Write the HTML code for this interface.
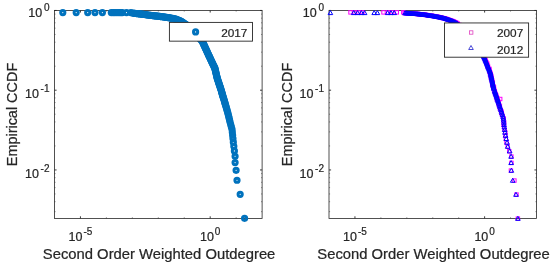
<!DOCTYPE html>
<html lang="en">
<head>
<meta charset="utf-8">
<title>Empirical CCDF of Second Order Weighted Outdegree</title>
<style>
html,body{margin:0;padding:0;background:#fff;}
body{width:550px;height:266px;overflow:hidden;font-family:"Liberation Sans", Arial, Helvetica, sans-serif;}
svg{display:block;}
text{font-family:"Liberation Sans", Arial, Helvetica, sans-serif;fill:#262626;stroke:#262626;stroke-width:0.22px;}
.tk{font-size:12.5px;}
.sp{font-size:10px;}
.lb{font-size:14.8px;}
.lg{font-size:11.8px;}
</style>
</head>
<body>
<svg width="550" height="266" viewBox="0 0 550 266">
<rect x="0" y="0" width="550" height="266" fill="#ffffff"/>

<g id="axes1">
<rect x="54.5" y="10.45" width="207.6" height="207.95" fill="none" stroke="#262626" stroke-width="0.8"/>
<path d="M80.45 218.4v-2.1M80.45 10.45v2.1M210.2 218.4v-2.1M210.2 10.45v2.1M54.5 10.45h2.1M262.1 10.45h-2.1M54.5 90.2h2.1M262.1 90.2h-2.1M54.5 169.95h2.1M262.1 169.95h-2.1" stroke="#262626" stroke-width="0.9" fill="none"/>
<path d="M106.4 218.4v-1.2M106.4 10.45v1.2M132.35 218.4v-1.2M132.35 10.45v1.2M158.3 218.4v-1.2M158.3 10.45v1.2M184.25 218.4v-1.2M184.25 10.45v1.2M236.15 218.4v-1.2M236.15 10.45v1.2M54.5 66.19h1.1M262.1 66.19h-1.1M54.5 52.15h1.1M262.1 52.15h-1.1M54.5 42.19h1.1M262.1 42.19h-1.1M54.5 34.46h1.1M262.1 34.46h-1.1M54.5 28.14h1.1M262.1 28.14h-1.1M54.5 22.8h1.1M262.1 22.8h-1.1M54.5 18.18h1.1M262.1 18.18h-1.1M54.5 14.1h1.1M262.1 14.1h-1.1M54.5 145.94h1.1M262.1 145.94h-1.1M54.5 131.9h1.1M262.1 131.9h-1.1M54.5 121.94h1.1M262.1 121.94h-1.1M54.5 114.21h1.1M262.1 114.21h-1.1M54.5 107.89h1.1M262.1 107.89h-1.1M54.5 102.55h1.1M262.1 102.55h-1.1M54.5 97.93h1.1M262.1 97.93h-1.1M54.5 93.85h1.1M262.1 93.85h-1.1M54.5 211.65h1.1M262.1 211.65h-1.1M54.5 201.69h1.1M262.1 201.69h-1.1M54.5 193.96h1.1M262.1 193.96h-1.1M54.5 187.64h1.1M262.1 187.64h-1.1M54.5 182.3h1.1M262.1 182.3h-1.1M54.5 177.68h1.1M262.1 177.68h-1.1M54.5 173.6h1.1M262.1 173.6h-1.1" stroke="#262626" stroke-width="0.6" fill="none" opacity="0.8"/>
<g fill="none" stroke="#0072bd" stroke-width="3.0">
<circle cx="62.8" cy="12.6" r="2.1"/>
<circle cx="76.2" cy="12.6" r="2.1"/>
<circle cx="87.7" cy="12.6" r="2.1"/>
<circle cx="95" cy="12.6" r="2.1"/>
<circle cx="102.4" cy="12.6" r="2.1"/>
<circle cx="111.3" cy="12.6" r="2.1"/>
<circle cx="113.2" cy="12.6" r="2.1"/>
<circle cx="115" cy="12.6" r="2.1"/>
<circle cx="117" cy="12.6" r="2.1"/>
<circle cx="119" cy="12.6" r="2.1"/>
<circle cx="120.8" cy="12.6" r="2.1"/>
<circle cx="122.3" cy="12.6" r="2.1"/>
<circle cx="126.5" cy="12.6" r="2.1"/>
<circle cx="130.9" cy="12.6" r="2.1"/>
<circle cx="133" cy="13.2" r="2.1"/>
<circle cx="134" cy="13.29" r="2.1"/>
<circle cx="134.99" cy="13.39" r="2.1"/>
<circle cx="135.99" cy="13.48" r="2.1"/>
<circle cx="136.98" cy="13.58" r="2.1"/>
<circle cx="137.98" cy="13.67" r="2.1"/>
<circle cx="138.97" cy="13.79" r="2.1"/>
<circle cx="139.96" cy="13.92" r="2.1"/>
<circle cx="140.95" cy="14.06" r="2.1"/>
<circle cx="141.94" cy="14.19" r="2.1"/>
<circle cx="142.94" cy="14.32" r="2.1"/>
<circle cx="143.93" cy="14.45" r="2.1"/>
<circle cx="144.92" cy="14.59" r="2.1"/>
<circle cx="145.91" cy="14.72" r="2.1"/>
<circle cx="146.9" cy="14.85" r="2.1"/>
<circle cx="147.89" cy="14.98" r="2.1"/>
<circle cx="148.88" cy="15.12" r="2.1"/>
<circle cx="149.87" cy="15.25" r="2.1"/>
<circle cx="150.86" cy="15.38" r="2.1"/>
<circle cx="151.86" cy="15.5" r="2.1"/>
<circle cx="152.85" cy="15.62" r="2.1"/>
<circle cx="153.84" cy="15.73" r="2.1"/>
<circle cx="154.84" cy="15.85" r="2.1"/>
<circle cx="155.83" cy="15.96" r="2.1"/>
<circle cx="156.82" cy="16.08" r="2.1"/>
<circle cx="157.82" cy="16.2" r="2.1"/>
<circle cx="158.81" cy="16.31" r="2.1"/>
<circle cx="159.8" cy="16.43" r="2.1"/>
<circle cx="160.8" cy="16.54" r="2.1"/>
<circle cx="161.79" cy="16.66" r="2.1"/>
<circle cx="162.78" cy="16.77" r="2.1"/>
<circle cx="163.77" cy="16.92" r="2.1"/>
<circle cx="164.76" cy="17.08" r="2.1"/>
<circle cx="165.75" cy="17.23" r="2.1"/>
<circle cx="166.74" cy="17.39" r="2.1"/>
<circle cx="167.72" cy="17.54" r="2.1"/>
<circle cx="168.71" cy="17.7" r="2.1"/>
<circle cx="169.7" cy="17.85" r="2.1"/>
<circle cx="170.68" cy="18.04" r="2.1"/>
<circle cx="171.66" cy="18.23" r="2.1"/>
<circle cx="172.64" cy="18.43" r="2.1"/>
<circle cx="173.62" cy="18.62" r="2.1"/>
<circle cx="174.6" cy="18.82" r="2.1"/>
<circle cx="175.58" cy="19.03" r="2.1"/>
<circle cx="176.51" cy="19.4" r="2.1"/>
<circle cx="177.44" cy="19.78" r="2.1"/>
<circle cx="178.37" cy="20.15" r="2.1"/>
<circle cx="179.29" cy="20.52" r="2.1"/>
<circle cx="180.22" cy="20.89" r="2.1"/>
<circle cx="181.14" cy="21.29" r="2.1"/>
<circle cx="181.96" cy="21.85" r="2.1"/>
<circle cx="182.79" cy="22.42" r="2.1"/>
<circle cx="183.62" cy="22.98" r="2.1"/>
<circle cx="184.44" cy="23.54" r="2.1"/>
<circle cx="185.27" cy="24.1" r="2.1"/>
<circle cx="186.09" cy="24.67" r="2.1"/>
<circle cx="186.87" cy="25.3" r="2.1"/>
<circle cx="187.65" cy="25.92" r="2.1"/>
<circle cx="188.43" cy="26.55" r="2.1"/>
<circle cx="189.21" cy="27.17" r="2.1"/>
<circle cx="190" cy="27.8" r="2.1"/>
<circle cx="190.78" cy="28.42" r="2.1"/>
<circle cx="191.5" cy="29.1" r="2.1"/>
<circle cx="192.21" cy="29.81" r="2.1"/>
<circle cx="192.92" cy="30.52" r="2.1"/>
<circle cx="193.63" cy="31.23" r="2.1"/>
<circle cx="194.33" cy="31.93" r="2.1"/>
<circle cx="195.04" cy="32.64" r="2.1"/>
<circle cx="195.75" cy="33.35" r="2.1"/>
<circle cx="196.4" cy="34.1" r="2.1"/>
<circle cx="197.03" cy="34.88" r="2.1"/>
<circle cx="197.66" cy="35.65" r="2.1"/>
<circle cx="198.29" cy="36.43" r="2.1"/>
<circle cx="198.92" cy="37.21" r="2.1"/>
<circle cx="199.55" cy="37.98" r="2.1"/>
<circle cx="200.18" cy="38.76" r="2.1"/>
<circle cx="200.81" cy="39.54" r="2.1"/>
<circle cx="201.44" cy="40.32" r="2.1"/>
<circle cx="202.07" cy="41.09" r="2.1"/>
<circle cx="202.6" cy="41.93" r="2.1"/>
<circle cx="203.02" cy="42.84" r="2.1"/>
<circle cx="203.43" cy="43.75" r="2.1"/>
<circle cx="203.85" cy="44.66" r="2.1"/>
<circle cx="204.27" cy="45.57" r="2.1"/>
<circle cx="204.69" cy="46.47" r="2.1"/>
<circle cx="205.11" cy="47.38" r="2.1"/>
<circle cx="205.52" cy="48.29" r="2.1"/>
<circle cx="205.94" cy="49.2" r="2.1"/>
<circle cx="206.36" cy="50.11" r="2.1"/>
<circle cx="206.78" cy="51.02" r="2.1"/>
<circle cx="207.19" cy="51.93" r="2.1"/>
<circle cx="207.61" cy="52.83" r="2.1"/>
<circle cx="208.03" cy="53.74" r="2.1"/>
<circle cx="208.45" cy="54.65" r="2.1"/>
<circle cx="208.87" cy="55.56" r="2.1"/>
<circle cx="209.29" cy="56.46" r="2.1"/>
<circle cx="209.72" cy="57.37" r="2.1"/>
<circle cx="210.14" cy="58.27" r="2.1"/>
<circle cx="210.57" cy="59.18" r="2.1"/>
<circle cx="210.99" cy="60.09" r="2.1"/>
<circle cx="211.42" cy="60.99" r="2.1"/>
<circle cx="211.84" cy="61.9" r="2.1"/>
<circle cx="212.27" cy="62.8" r="2.1"/>
<circle cx="212.69" cy="63.71" r="2.1"/>
<circle cx="213.12" cy="64.61" r="2.1"/>
<circle cx="213.56" cy="65.51" r="2.1"/>
<circle cx="214.02" cy="66.39" r="2.1"/>
<circle cx="214.48" cy="67.28" r="2.1"/>
<circle cx="214.87" cy="68.2" r="2.1"/>
<circle cx="215.1" cy="69.17" r="2.1"/>
<circle cx="215.32" cy="70.15" r="2.1"/>
<circle cx="215.55" cy="71.12" r="2.1"/>
<circle cx="215.77" cy="72.09" r="2.1"/>
<circle cx="216" cy="73.07" r="2.1"/>
<circle cx="216.23" cy="74.04" r="2.1"/>
<circle cx="216.45" cy="75.02" r="2.1"/>
<circle cx="216.68" cy="75.99" r="2.1"/>
<circle cx="216.91" cy="76.96" r="2.1"/>
<circle cx="217.14" cy="77.93" r="2.1"/>
<circle cx="217.46" cy="78.88" r="2.1"/>
<circle cx="217.77" cy="79.83" r="2.1"/>
<circle cx="218.09" cy="80.78" r="2.1"/>
<circle cx="218.4" cy="81.73" r="2.1"/>
<circle cx="218.71" cy="82.68" r="2.1"/>
<circle cx="219.03" cy="83.63" r="2.1"/>
<circle cx="219.34" cy="84.58" r="2.1"/>
<circle cx="219.66" cy="85.53" r="2.1"/>
<circle cx="219.97" cy="86.48" r="2.1"/>
<circle cx="220.28" cy="87.43" r="2.1"/>
<circle cx="220.6" cy="88.38" r="2.1"/>
<circle cx="220.91" cy="89.33" r="2.1"/>
<circle cx="221.31" cy="90.54" r="2.1"/>
<circle cx="221.55" cy="91.42" r="2.1"/>
<circle cx="221.79" cy="92.32" r="2.1"/>
<circle cx="222.03" cy="93.24" r="2.1"/>
<circle cx="222.29" cy="94.19" r="2.1"/>
<circle cx="222.56" cy="95.17" r="2.1"/>
<circle cx="222.88" cy="96.17" r="2.1"/>
<circle cx="223.22" cy="97.21" r="2.1"/>
<circle cx="223.56" cy="98.27" r="2.1"/>
<circle cx="223.91" cy="99.37" r="2.1"/>
<circle cx="224.24" cy="100.51" r="2.1"/>
<circle cx="224.58" cy="101.68" r="2.1"/>
<circle cx="224.94" cy="102.9" r="2.1"/>
<circle cx="225.31" cy="104.16" r="2.1"/>
<circle cx="225.69" cy="105.46" r="2.1"/>
<circle cx="226.09" cy="106.82" r="2.1"/>
<circle cx="226.5" cy="108.24" r="2.1"/>
<circle cx="226.93" cy="109.71" r="2.1"/>
<circle cx="227.38" cy="111.25" r="2.1"/>
<circle cx="227.81" cy="112.86" r="2.1"/>
<circle cx="228.23" cy="114.55" r="2.1"/>
<circle cx="228.67" cy="116.33" r="2.1"/>
<circle cx="229.13" cy="118.2" r="2.1"/>
<circle cx="229.61" cy="120.18" r="2.1"/>
<circle cx="230.13" cy="122.28" r="2.1"/>
<circle cx="230.68" cy="124.52" r="2.1"/>
<circle cx="231.37" cy="126.91" r="2.1"/>
<circle cx="232.05" cy="129.47" r="2.1"/>
<circle cx="232.32" cy="132.24" r="2.1"/>
<circle cx="232.63" cy="135.26" r="2.1"/>
<circle cx="232.96" cy="138.56" r="2.1"/>
<circle cx="233.33" cy="142.21" r="2.1"/>
<circle cx="233.83" cy="146.29" r="2.1"/>
<circle cx="234.4" cy="150.91" r="2.1"/>
<circle cx="235.09" cy="156.25" r="2.1"/>
<circle cx="235.1" cy="162.57" r="2.1"/>
<circle cx="236.1" cy="170.29" r="2.1"/>
<circle cx="237.01" cy="180.26" r="2.1"/>
<circle cx="240.18" cy="194.3" r="2.1"/>
<circle cx="244.58" cy="218.31" r="2.1"/>
</g>
<text x="49.5" y="17.35" text-anchor="end"><tspan class="tk">10</tspan><tspan class="sp" dx="1.7" dy="-6.1">0</tspan></text>
<text x="49.5" y="97.8" text-anchor="end"><tspan class="tk">10</tspan><tspan class="sp" dx="1.7" dy="-6.1">-1</tspan></text>
<text x="49.5" y="177.85" text-anchor="end"><tspan class="tk">10</tspan><tspan class="sp" dx="1.7" dy="-6.1">-2</tspan></text>
<text x="80.45" y="240.7" text-anchor="middle"><tspan class="tk">10</tspan><tspan class="sp" dx="1.0" dy="-6.1">-5</tspan></text>
<text x="210.2" y="240.7" text-anchor="middle"><tspan class="tk">10</tspan><tspan class="sp" dx="1.0" dy="-6.1">0</tspan></text>
<text class="lb" x="159.1" y="259.0" text-anchor="middle">Second Order Weighted Outdegree</text>
<text class="lb" style="font-size:14.45px" transform="translate(17.4 114.52) rotate(-90)" text-anchor="middle">Empirical CCDF</text>
<rect x="169.4" y="22.4" width="83.1" height="18.75" fill="#fff" stroke="#262626" stroke-width="0.9"/>
<circle cx="195.6" cy="31.9" r="2.1" fill="none" stroke="#0072bd" stroke-width="3.0"/>
<text class="lg" x="221.2" y="36.7">2017</text>
</g>
<g id="axes2">
<rect x="329" y="10.45" width="207.5" height="207.95" fill="none" stroke="#262626" stroke-width="0.8"/>
<path d="M354.94 218.4v-2.1M354.94 10.45v2.1M484.62 218.4v-2.1M484.62 10.45v2.1M329 10.45h2.1M536.5 10.45h-2.1M329 90.2h2.1M536.5 90.2h-2.1M329 169.95h2.1M536.5 169.95h-2.1" stroke="#262626" stroke-width="0.9" fill="none"/>
<path d="M380.88 218.4v-1.2M380.88 10.45v1.2M406.81 218.4v-1.2M406.81 10.45v1.2M432.75 218.4v-1.2M432.75 10.45v1.2M458.69 218.4v-1.2M458.69 10.45v1.2M510.56 218.4v-1.2M510.56 10.45v1.2M329 66.19h1.1M536.5 66.19h-1.1M329 52.15h1.1M536.5 52.15h-1.1M329 42.19h1.1M536.5 42.19h-1.1M329 34.46h1.1M536.5 34.46h-1.1M329 28.14h1.1M536.5 28.14h-1.1M329 22.8h1.1M536.5 22.8h-1.1M329 18.18h1.1M536.5 18.18h-1.1M329 14.1h1.1M536.5 14.1h-1.1M329 145.94h1.1M536.5 145.94h-1.1M329 131.9h1.1M536.5 131.9h-1.1M329 121.94h1.1M536.5 121.94h-1.1M329 114.21h1.1M536.5 114.21h-1.1M329 107.89h1.1M536.5 107.89h-1.1M329 102.55h1.1M536.5 102.55h-1.1M329 97.93h1.1M536.5 97.93h-1.1M329 93.85h1.1M536.5 93.85h-1.1M329 211.65h1.1M536.5 211.65h-1.1M329 201.69h1.1M536.5 201.69h-1.1M329 193.96h1.1M536.5 193.96h-1.1M329 187.64h1.1M536.5 187.64h-1.1M329 182.3h1.1M536.5 182.3h-1.1M329 177.68h1.1M536.5 177.68h-1.1M329 173.6h1.1M536.5 173.6h-1.1" stroke="#262626" stroke-width="0.6" fill="none" opacity="0.8"/>
<g>
<rect x="348.8" y="10.7" width="3.4" height="3.4" fill="none" stroke="#ff00ff" stroke-width="1.0"/>
<rect x="352.8" y="10.7" width="3.4" height="3.4" fill="none" stroke="#ff00ff" stroke-width="1.0"/>
<rect x="356.8" y="10.7" width="3.4" height="3.4" fill="none" stroke="#ff00ff" stroke-width="1.0"/>
<rect x="360.8" y="10.7" width="3.4" height="3.4" fill="none" stroke="#ff00ff" stroke-width="1.0"/>
<rect x="381.8" y="10.7" width="3.4" height="3.4" fill="none" stroke="#ff00ff" stroke-width="1.0"/>
<rect x="386.3" y="10.7" width="3.4" height="3.4" fill="none" stroke="#ff00ff" stroke-width="1.0"/>
<rect x="390.3" y="10.7" width="3.4" height="3.4" fill="none" stroke="#ff00ff" stroke-width="1.0"/>
<rect x="395.1" y="10.7" width="3.4" height="3.4" fill="none" stroke="#ff00ff" stroke-width="1.0"/>
<rect x="401.6" y="10.7" width="3.4" height="3.4" fill="none" stroke="#ff00ff" stroke-width="1.0"/>
<rect x="402.89" y="11.4" width="3.4" height="3.4" fill="none" stroke="#ff00ff" stroke-width="1.0"/>
<rect x="404.25" y="11.44" width="3.4" height="3.4" fill="none" stroke="#ff00ff" stroke-width="1.0"/>
<rect x="405.04" y="11.48" width="3.4" height="3.4" fill="none" stroke="#ff00ff" stroke-width="1.0"/>
<rect x="406.32" y="11.52" width="3.4" height="3.4" fill="none" stroke="#ff00ff" stroke-width="1.0"/>
<rect x="407.35" y="11.56" width="3.4" height="3.4" fill="none" stroke="#ff00ff" stroke-width="1.0"/>
<rect x="407.67" y="11.6" width="3.4" height="3.4" fill="none" stroke="#ff00ff" stroke-width="1.0"/>
<rect x="408.61" y="11.69" width="3.4" height="3.4" fill="none" stroke="#ff00ff" stroke-width="1.0"/>
<rect x="410.59" y="11.78" width="3.4" height="3.4" fill="none" stroke="#ff00ff" stroke-width="1.0"/>
<rect x="410.9" y="11.87" width="3.4" height="3.4" fill="none" stroke="#ff00ff" stroke-width="1.0"/>
<rect x="411.86" y="11.96" width="3.4" height="3.4" fill="none" stroke="#ff00ff" stroke-width="1.0"/>
<rect x="413.77" y="12.05" width="3.4" height="3.4" fill="none" stroke="#ff00ff" stroke-width="1.0"/>
<rect x="414.14" y="12.14" width="3.4" height="3.4" fill="none" stroke="#ff00ff" stroke-width="1.0"/>
<rect x="415.57" y="12.23" width="3.4" height="3.4" fill="none" stroke="#ff00ff" stroke-width="1.0"/>
<rect x="416.14" y="12.32" width="3.4" height="3.4" fill="none" stroke="#ff00ff" stroke-width="1.0"/>
<rect x="417.33" y="12.41" width="3.4" height="3.4" fill="none" stroke="#ff00ff" stroke-width="1.0"/>
<rect x="417.74" y="12.5" width="3.4" height="3.4" fill="none" stroke="#ff00ff" stroke-width="1.0"/>
<rect x="419.31" y="12.59" width="3.4" height="3.4" fill="none" stroke="#ff00ff" stroke-width="1.0"/>
<rect x="420.59" y="12.68" width="3.4" height="3.4" fill="none" stroke="#ff00ff" stroke-width="1.0"/>
<rect x="421.17" y="12.77" width="3.4" height="3.4" fill="none" stroke="#ff00ff" stroke-width="1.0"/>
<rect x="422.42" y="12.9" width="3.4" height="3.4" fill="none" stroke="#ff00ff" stroke-width="1.0"/>
<rect x="423.33" y="13.05" width="3.4" height="3.4" fill="none" stroke="#ff00ff" stroke-width="1.0"/>
<rect x="423.59" y="13.21" width="3.4" height="3.4" fill="none" stroke="#ff00ff" stroke-width="1.0"/>
<rect x="425.41" y="13.36" width="3.4" height="3.4" fill="none" stroke="#ff00ff" stroke-width="1.0"/>
<rect x="426.2" y="13.52" width="3.4" height="3.4" fill="none" stroke="#ff00ff" stroke-width="1.0"/>
<rect x="426.84" y="13.67" width="3.4" height="3.4" fill="none" stroke="#ff00ff" stroke-width="1.0"/>
<rect x="427.5" y="13.83" width="3.4" height="3.4" fill="none" stroke="#ff00ff" stroke-width="1.0"/>
<rect x="429.49" y="13.98" width="3.4" height="3.4" fill="none" stroke="#ff00ff" stroke-width="1.0"/>
<rect x="430.01" y="14.13" width="3.4" height="3.4" fill="none" stroke="#ff00ff" stroke-width="1.0"/>
<rect x="431.29" y="14.29" width="3.4" height="3.4" fill="none" stroke="#ff00ff" stroke-width="1.0"/>
<rect x="432.47" y="14.44" width="3.4" height="3.4" fill="none" stroke="#ff00ff" stroke-width="1.0"/>
<rect x="433.26" y="14.6" width="3.4" height="3.4" fill="none" stroke="#ff00ff" stroke-width="1.0"/>
<rect x="434.5" y="14.75" width="3.4" height="3.4" fill="none" stroke="#ff00ff" stroke-width="1.0"/>
<rect x="434.85" y="14.94" width="3.4" height="3.4" fill="none" stroke="#ff00ff" stroke-width="1.0"/>
<rect x="436.31" y="15.15" width="3.4" height="3.4" fill="none" stroke="#ff00ff" stroke-width="1.0"/>
<rect x="436.86" y="15.36" width="3.4" height="3.4" fill="none" stroke="#ff00ff" stroke-width="1.0"/>
<rect x="438.43" y="15.57" width="3.4" height="3.4" fill="none" stroke="#ff00ff" stroke-width="1.0"/>
<rect x="439.34" y="15.78" width="3.4" height="3.4" fill="none" stroke="#ff00ff" stroke-width="1.0"/>
<rect x="439.38" y="15.99" width="3.4" height="3.4" fill="none" stroke="#ff00ff" stroke-width="1.0"/>
<rect x="440.4" y="16.2" width="3.4" height="3.4" fill="none" stroke="#ff00ff" stroke-width="1.0"/>
<rect x="441.48" y="16.41" width="3.4" height="3.4" fill="none" stroke="#ff00ff" stroke-width="1.0"/>
<rect x="443.35" y="16.63" width="3.4" height="3.4" fill="none" stroke="#ff00ff" stroke-width="1.0"/>
<rect x="443.66" y="16.95" width="3.4" height="3.4" fill="none" stroke="#ff00ff" stroke-width="1.0"/>
<rect x="444.84" y="17.26" width="3.4" height="3.4" fill="none" stroke="#ff00ff" stroke-width="1.0"/>
<rect x="445.4" y="17.58" width="3.4" height="3.4" fill="none" stroke="#ff00ff" stroke-width="1.0"/>
<rect x="446.59" y="17.9" width="3.4" height="3.4" fill="none" stroke="#ff00ff" stroke-width="1.0"/>
<rect x="447.4" y="18.21" width="3.4" height="3.4" fill="none" stroke="#ff00ff" stroke-width="1.0"/>
<rect x="448.3" y="18.53" width="3.4" height="3.4" fill="none" stroke="#ff00ff" stroke-width="1.0"/>
<rect x="449.53" y="18.84" width="3.4" height="3.4" fill="none" stroke="#ff00ff" stroke-width="1.0"/>
<rect x="450.46" y="19.21" width="3.4" height="3.4" fill="none" stroke="#ff00ff" stroke-width="1.0"/>
<rect x="451.75" y="19.64" width="3.4" height="3.4" fill="none" stroke="#ff00ff" stroke-width="1.0"/>
<rect x="452.39" y="20.06" width="3.4" height="3.4" fill="none" stroke="#ff00ff" stroke-width="1.0"/>
<rect x="453.59" y="20.48" width="3.4" height="3.4" fill="none" stroke="#ff00ff" stroke-width="1.0"/>
<rect x="454.41" y="20.9" width="3.4" height="3.4" fill="none" stroke="#ff00ff" stroke-width="1.0"/>
<rect x="455.41" y="21.44" width="3.4" height="3.4" fill="none" stroke="#ff00ff" stroke-width="1.0"/>
<rect x="455.85" y="22.02" width="3.4" height="3.4" fill="none" stroke="#ff00ff" stroke-width="1.0"/>
<rect x="456.05" y="22.59" width="3.4" height="3.4" fill="none" stroke="#ff00ff" stroke-width="1.0"/>
<rect x="457.71" y="23.17" width="3.4" height="3.4" fill="none" stroke="#ff00ff" stroke-width="1.0"/>
<rect x="458.63" y="23.78" width="3.4" height="3.4" fill="none" stroke="#ff00ff" stroke-width="1.0"/>
<rect x="459.33" y="24.4" width="3.4" height="3.4" fill="none" stroke="#ff00ff" stroke-width="1.0"/>
<rect x="459.71" y="25.03" width="3.4" height="3.4" fill="none" stroke="#ff00ff" stroke-width="1.0"/>
<rect x="460.66" y="25.66" width="3.4" height="3.4" fill="none" stroke="#ff00ff" stroke-width="1.0"/>
<rect x="460.84" y="26.28" width="3.4" height="3.4" fill="none" stroke="#ff00ff" stroke-width="1.0"/>
<rect x="462.36" y="26.91" width="3.4" height="3.4" fill="none" stroke="#ff00ff" stroke-width="1.0"/>
<rect x="462.78" y="27.59" width="3.4" height="3.4" fill="none" stroke="#ff00ff" stroke-width="1.0"/>
<rect x="463.14" y="28.3" width="3.4" height="3.4" fill="none" stroke="#ff00ff" stroke-width="1.0"/>
<rect x="463.58" y="29.01" width="3.4" height="3.4" fill="none" stroke="#ff00ff" stroke-width="1.0"/>
<rect x="465.24" y="29.72" width="3.4" height="3.4" fill="none" stroke="#ff00ff" stroke-width="1.0"/>
<rect x="466.11" y="30.42" width="3.4" height="3.4" fill="none" stroke="#ff00ff" stroke-width="1.0"/>
<rect x="465.74" y="31.13" width="3.4" height="3.4" fill="none" stroke="#ff00ff" stroke-width="1.0"/>
<rect x="467.3" y="31.84" width="3.4" height="3.4" fill="none" stroke="#ff00ff" stroke-width="1.0"/>
<rect x="467.49" y="32.58" width="3.4" height="3.4" fill="none" stroke="#ff00ff" stroke-width="1.0"/>
<rect x="467.82" y="33.35" width="3.4" height="3.4" fill="none" stroke="#ff00ff" stroke-width="1.0"/>
<rect x="468.64" y="34.12" width="3.4" height="3.4" fill="none" stroke="#ff00ff" stroke-width="1.0"/>
<rect x="469.85" y="34.89" width="3.4" height="3.4" fill="none" stroke="#ff00ff" stroke-width="1.0"/>
<rect x="470.61" y="35.66" width="3.4" height="3.4" fill="none" stroke="#ff00ff" stroke-width="1.0"/>
<rect x="470.26" y="36.42" width="3.4" height="3.4" fill="none" stroke="#ff00ff" stroke-width="1.0"/>
<rect x="471.58" y="37.19" width="3.4" height="3.4" fill="none" stroke="#ff00ff" stroke-width="1.0"/>
<rect x="471.54" y="37.96" width="3.4" height="3.4" fill="none" stroke="#ff00ff" stroke-width="1.0"/>
<rect x="472.94" y="38.77" width="3.4" height="3.4" fill="none" stroke="#ff00ff" stroke-width="1.0"/>
<rect x="473.05" y="39.58" width="3.4" height="3.4" fill="none" stroke="#ff00ff" stroke-width="1.0"/>
<rect x="474.29" y="40.39" width="3.4" height="3.4" fill="none" stroke="#ff00ff" stroke-width="1.0"/>
<rect x="475" y="41.21" width="3.4" height="3.4" fill="none" stroke="#ff00ff" stroke-width="1.0"/>
<rect x="475.01" y="42.02" width="3.4" height="3.4" fill="none" stroke="#ff00ff" stroke-width="1.0"/>
<rect x="476.18" y="42.83" width="3.4" height="3.4" fill="none" stroke="#ff00ff" stroke-width="1.0"/>
<rect x="475.93" y="43.65" width="3.4" height="3.4" fill="none" stroke="#ff00ff" stroke-width="1.0"/>
<rect x="476.24" y="44.46" width="3.4" height="3.4" fill="none" stroke="#ff00ff" stroke-width="1.0"/>
<rect x="477.42" y="45.29" width="3.4" height="3.4" fill="none" stroke="#ff00ff" stroke-width="1.0"/>
<rect x="477.18" y="46.19" width="3.4" height="3.4" fill="none" stroke="#ff00ff" stroke-width="1.0"/>
<rect x="477.82" y="47.09" width="3.4" height="3.4" fill="none" stroke="#ff00ff" stroke-width="1.0"/>
<rect x="478.52" y="47.98" width="3.4" height="3.4" fill="none" stroke="#ff00ff" stroke-width="1.0"/>
<rect x="479.2" y="48.88" width="3.4" height="3.4" fill="none" stroke="#ff00ff" stroke-width="1.0"/>
<rect x="479.1" y="49.77" width="3.4" height="3.4" fill="none" stroke="#ff00ff" stroke-width="1.0"/>
<rect x="479.41" y="50.67" width="3.4" height="3.4" fill="none" stroke="#ff00ff" stroke-width="1.0"/>
<rect x="480.84" y="51.57" width="3.4" height="3.4" fill="none" stroke="#ff00ff" stroke-width="1.0"/>
<rect x="480.62" y="52.46" width="3.4" height="3.4" fill="none" stroke="#ff00ff" stroke-width="1.0"/>
<rect x="481.84" y="53.36" width="3.4" height="3.4" fill="none" stroke="#ff00ff" stroke-width="1.0"/>
<rect x="482.21" y="54.25" width="3.4" height="3.4" fill="none" stroke="#ff00ff" stroke-width="1.0"/>
<rect x="482.03" y="55.15" width="3.4" height="3.4" fill="none" stroke="#ff00ff" stroke-width="1.0"/>
<rect x="482.58" y="56.05" width="3.4" height="3.4" fill="none" stroke="#ff00ff" stroke-width="1.0"/>
<rect x="483.03" y="56.97" width="3.4" height="3.4" fill="none" stroke="#ff00ff" stroke-width="1.0"/>
<rect x="483.56" y="57.9" width="3.4" height="3.4" fill="none" stroke="#ff00ff" stroke-width="1.0"/>
<rect x="483.87" y="58.82" width="3.4" height="3.4" fill="none" stroke="#ff00ff" stroke-width="1.0"/>
<rect x="484.2" y="59.75" width="3.4" height="3.4" fill="none" stroke="#ff00ff" stroke-width="1.0"/>
<rect x="484.65" y="60.68" width="3.4" height="3.4" fill="none" stroke="#ff00ff" stroke-width="1.0"/>
<rect x="485.41" y="61.61" width="3.4" height="3.4" fill="none" stroke="#ff00ff" stroke-width="1.0"/>
<rect x="485.26" y="62.53" width="3.4" height="3.4" fill="none" stroke="#ff00ff" stroke-width="1.0"/>
<rect x="485.54" y="63.46" width="3.4" height="3.4" fill="none" stroke="#ff00ff" stroke-width="1.0"/>
<rect x="486.26" y="64.39" width="3.4" height="3.4" fill="none" stroke="#ff00ff" stroke-width="1.0"/>
<rect x="486.06" y="65.32" width="3.4" height="3.4" fill="none" stroke="#ff00ff" stroke-width="1.0"/>
<rect x="486.51" y="66.24" width="3.4" height="3.4" fill="none" stroke="#ff00ff" stroke-width="1.0"/>
<rect x="487.69" y="67.17" width="3.4" height="3.4" fill="none" stroke="#ff00ff" stroke-width="1.0"/>
<rect x="487.52" y="68.1" width="3.4" height="3.4" fill="none" stroke="#ff00ff" stroke-width="1.0"/>
<rect x="487.92" y="69.03" width="3.4" height="3.4" fill="none" stroke="#ff00ff" stroke-width="1.0"/>
<rect x="487.65" y="69.95" width="3.4" height="3.4" fill="none" stroke="#ff00ff" stroke-width="1.0"/>
<rect x="488.46" y="70.9" width="3.4" height="3.4" fill="none" stroke="#ff00ff" stroke-width="1.0"/>
<rect x="488.87" y="71.87" width="3.4" height="3.4" fill="none" stroke="#ff00ff" stroke-width="1.0"/>
<rect x="488.4" y="72.85" width="3.4" height="3.4" fill="none" stroke="#ff00ff" stroke-width="1.0"/>
<rect x="489.33" y="73.83" width="3.4" height="3.4" fill="none" stroke="#ff00ff" stroke-width="1.0"/>
<rect x="489.56" y="74.81" width="3.4" height="3.4" fill="none" stroke="#ff00ff" stroke-width="1.0"/>
<rect x="489.08" y="75.79" width="3.4" height="3.4" fill="none" stroke="#ff00ff" stroke-width="1.0"/>
<rect x="489.97" y="76.76" width="3.4" height="3.4" fill="none" stroke="#ff00ff" stroke-width="1.0"/>
<rect x="489.98" y="77.74" width="3.4" height="3.4" fill="none" stroke="#ff00ff" stroke-width="1.0"/>
<rect x="490.45" y="78.72" width="3.4" height="3.4" fill="none" stroke="#ff00ff" stroke-width="1.0"/>
<rect x="490.26" y="79.7" width="3.4" height="3.4" fill="none" stroke="#ff00ff" stroke-width="1.0"/>
<rect x="490.9" y="80.68" width="3.4" height="3.4" fill="none" stroke="#ff00ff" stroke-width="1.0"/>
<rect x="491.14" y="81.65" width="3.4" height="3.4" fill="none" stroke="#ff00ff" stroke-width="1.0"/>
<rect x="490.49" y="82.63" width="3.4" height="3.4" fill="none" stroke="#ff00ff" stroke-width="1.0"/>
<rect x="490.75" y="83.61" width="3.4" height="3.4" fill="none" stroke="#ff00ff" stroke-width="1.0"/>
<rect x="491.7" y="84.59" width="3.4" height="3.4" fill="none" stroke="#ff00ff" stroke-width="1.0"/>
<rect x="492.25" y="85.57" width="3.4" height="3.4" fill="none" stroke="#ff00ff" stroke-width="1.0"/>
<rect x="491.71" y="86.52" width="3.4" height="3.4" fill="none" stroke="#ff00ff" stroke-width="1.0"/>
<rect x="492.27" y="87.46" width="3.4" height="3.4" fill="none" stroke="#ff00ff" stroke-width="1.0"/>
<rect x="492.99" y="89.14" width="3.4" height="3.4" fill="none" stroke="#ff00ff" stroke-width="1.0"/>
<rect x="492.96" y="90.02" width="3.4" height="3.4" fill="none" stroke="#ff00ff" stroke-width="1.0"/>
<rect x="493.31" y="90.92" width="3.4" height="3.4" fill="none" stroke="#ff00ff" stroke-width="1.0"/>
<rect x="493.56" y="91.84" width="3.4" height="3.4" fill="none" stroke="#ff00ff" stroke-width="1.0"/>
<rect x="493.94" y="92.79" width="3.4" height="3.4" fill="none" stroke="#ff00ff" stroke-width="1.0"/>
<rect x="494.54" y="93.77" width="3.4" height="3.4" fill="none" stroke="#ff00ff" stroke-width="1.0"/>
<rect x="494.52" y="94.77" width="3.4" height="3.4" fill="none" stroke="#ff00ff" stroke-width="1.0"/>
<rect x="494.96" y="95.81" width="3.4" height="3.4" fill="none" stroke="#ff00ff" stroke-width="1.0"/>
<rect x="495.78" y="96.87" width="3.4" height="3.4" fill="none" stroke="#ff00ff" stroke-width="1.0"/>
<rect x="495.26" y="97.97" width="3.4" height="3.4" fill="none" stroke="#ff00ff" stroke-width="1.0"/>
<rect x="496.29" y="99.11" width="3.4" height="3.4" fill="none" stroke="#ff00ff" stroke-width="1.0"/>
<rect x="496.88" y="100.28" width="3.4" height="3.4" fill="none" stroke="#ff00ff" stroke-width="1.0"/>
<rect x="496.76" y="101.5" width="3.4" height="3.4" fill="none" stroke="#ff00ff" stroke-width="1.0"/>
<rect x="497.06" y="102.76" width="3.4" height="3.4" fill="none" stroke="#ff00ff" stroke-width="1.0"/>
<rect x="498.17" y="104.06" width="3.4" height="3.4" fill="none" stroke="#ff00ff" stroke-width="1.0"/>
<rect x="497.93" y="105.42" width="3.4" height="3.4" fill="none" stroke="#ff00ff" stroke-width="1.0"/>
<rect x="498.32" y="106.84" width="3.4" height="3.4" fill="none" stroke="#ff00ff" stroke-width="1.0"/>
<rect x="499.09" y="108.31" width="3.4" height="3.4" fill="none" stroke="#ff00ff" stroke-width="1.0"/>
<rect x="499.9" y="109.85" width="3.4" height="3.4" fill="none" stroke="#ff00ff" stroke-width="1.0"/>
<rect x="499.7" y="111.46" width="3.4" height="3.4" fill="none" stroke="#ff00ff" stroke-width="1.0"/>
<rect x="500.5" y="113.15" width="3.4" height="3.4" fill="none" stroke="#ff00ff" stroke-width="1.0"/>
<rect x="501.09" y="114.93" width="3.4" height="3.4" fill="none" stroke="#ff00ff" stroke-width="1.0"/>
<rect x="502.03" y="116.8" width="3.4" height="3.4" fill="none" stroke="#ff00ff" stroke-width="1.0"/>
<rect x="501.77" y="118.78" width="3.4" height="3.4" fill="none" stroke="#ff00ff" stroke-width="1.0"/>
<rect x="502.49" y="120.88" width="3.4" height="3.4" fill="none" stroke="#ff00ff" stroke-width="1.0"/>
<rect x="501.9" y="123.12" width="3.4" height="3.4" fill="none" stroke="#ff00ff" stroke-width="1.0"/>
<rect x="502.36" y="125.51" width="3.4" height="3.4" fill="none" stroke="#ff00ff" stroke-width="1.0"/>
<rect x="503.01" y="128.07" width="3.4" height="3.4" fill="none" stroke="#ff00ff" stroke-width="1.0"/>
<rect x="503.61" y="130.84" width="3.4" height="3.4" fill="none" stroke="#ff00ff" stroke-width="1.0"/>
<rect x="503.73" y="133.86" width="3.4" height="3.4" fill="none" stroke="#ff00ff" stroke-width="1.0"/>
<rect x="504.15" y="137.16" width="3.4" height="3.4" fill="none" stroke="#ff00ff" stroke-width="1.0"/>
<rect x="504.78" y="140.81" width="3.4" height="3.4" fill="none" stroke="#ff00ff" stroke-width="1.0"/>
<rect x="506" y="144.89" width="3.4" height="3.4" fill="none" stroke="#ff00ff" stroke-width="1.0"/>
<rect x="507.53" y="149.51" width="3.4" height="3.4" fill="none" stroke="#ff00ff" stroke-width="1.0"/>
<rect x="509.66" y="154.85" width="3.4" height="3.4" fill="none" stroke="#ff00ff" stroke-width="1.0"/>
<rect x="509.71" y="161.17" width="3.4" height="3.4" fill="none" stroke="#ff00ff" stroke-width="1.0"/>
<rect x="509.22" y="168.89" width="3.4" height="3.4" fill="none" stroke="#ff00ff" stroke-width="1.0"/>
<rect x="512.71" y="178.86" width="3.4" height="3.4" fill="none" stroke="#ff00ff" stroke-width="1.0"/>
<rect x="514.78" y="192.9" width="3.4" height="3.4" fill="none" stroke="#ff00ff" stroke-width="1.0"/>
<rect x="516.2" y="216.91" width="3.4" height="3.4" fill="none" stroke="#ff00ff" stroke-width="1.0"/>
<rect x="498.5" y="97.3" width="3.4" height="3.4" fill="none" stroke="#ff00ff" stroke-width="1.0"/>
</g><g>
<path d="M328.1 14.6L332.7 14.6L330.4 10.6Z" fill="none" stroke="#0000ff" stroke-width="1.0"/>
<path d="M351.4 14.6L356 14.6L353.7 10.6Z" fill="none" stroke="#0000ff" stroke-width="1.0"/>
<path d="M355.3 14.6L359.9 14.6L357.6 10.6Z" fill="none" stroke="#0000ff" stroke-width="1.0"/>
<path d="M359.1 14.6L363.7 14.6L361.4 10.6Z" fill="none" stroke="#0000ff" stroke-width="1.0"/>
<path d="M362.3 14.6L366.9 14.6L364.6 10.6Z" fill="none" stroke="#0000ff" stroke-width="1.0"/>
<path d="M371.9 14.6L376.5 14.6L374.2 10.6Z" fill="none" stroke="#0000ff" stroke-width="1.0"/>
<path d="M375.1 14.6L379.7 14.6L377.4 10.6Z" fill="none" stroke="#0000ff" stroke-width="1.0"/>
<path d="M385.3 14.6L389.9 14.6L387.6 10.6Z" fill="none" stroke="#0000ff" stroke-width="1.0"/>
<path d="M388.6 14.6L393.2 14.6L390.9 10.6Z" fill="none" stroke="#0000ff" stroke-width="1.0"/>
<path d="M391.9 14.6L396.5 14.6L394.2 10.6Z" fill="none" stroke="#0000ff" stroke-width="1.0"/>
<path d="M402.7 14.8L407.3 14.8L405 10.8Z" fill="none" stroke="#0000ff" stroke-width="1.0"/>
<path d="M403.7 14.84L408.3 14.84L406 10.84Z" fill="none" stroke="#0000ff" stroke-width="1.0"/>
<path d="M404.7 14.88L409.3 14.88L407 10.88Z" fill="none" stroke="#0000ff" stroke-width="1.0"/>
<path d="M405.7 14.92L410.3 14.92L408 10.92Z" fill="none" stroke="#0000ff" stroke-width="1.0"/>
<path d="M406.7 14.96L411.3 14.96L409 10.96Z" fill="none" stroke="#0000ff" stroke-width="1.0"/>
<path d="M407.7 15L412.3 15L410 11Z" fill="none" stroke="#0000ff" stroke-width="1.0"/>
<path d="M408.69 15.09L413.29 15.09L410.99 11.09Z" fill="none" stroke="#0000ff" stroke-width="1.0"/>
<path d="M409.69 15.18L414.29 15.18L411.99 11.18Z" fill="none" stroke="#0000ff" stroke-width="1.0"/>
<path d="M410.68 15.27L415.28 15.27L412.98 11.27Z" fill="none" stroke="#0000ff" stroke-width="1.0"/>
<path d="M411.68 15.36L416.28 15.36L413.98 11.36Z" fill="none" stroke="#0000ff" stroke-width="1.0"/>
<path d="M412.68 15.45L417.28 15.45L414.98 11.45Z" fill="none" stroke="#0000ff" stroke-width="1.0"/>
<path d="M413.67 15.54L418.27 15.54L415.97 11.54Z" fill="none" stroke="#0000ff" stroke-width="1.0"/>
<path d="M414.67 15.63L419.27 15.63L416.97 11.63Z" fill="none" stroke="#0000ff" stroke-width="1.0"/>
<path d="M415.66 15.72L420.26 15.72L417.96 11.72Z" fill="none" stroke="#0000ff" stroke-width="1.0"/>
<path d="M416.66 15.81L421.26 15.81L418.96 11.81Z" fill="none" stroke="#0000ff" stroke-width="1.0"/>
<path d="M417.66 15.9L422.26 15.9L419.96 11.9Z" fill="none" stroke="#0000ff" stroke-width="1.0"/>
<path d="M418.65 15.99L423.25 15.99L420.95 11.99Z" fill="none" stroke="#0000ff" stroke-width="1.0"/>
<path d="M419.65 16.08L424.25 16.08L421.95 12.08Z" fill="none" stroke="#0000ff" stroke-width="1.0"/>
<path d="M420.64 16.17L425.24 16.17L422.94 12.17Z" fill="none" stroke="#0000ff" stroke-width="1.0"/>
<path d="M421.63 16.3L426.23 16.3L423.93 12.3Z" fill="none" stroke="#0000ff" stroke-width="1.0"/>
<path d="M422.62 16.45L427.22 16.45L424.92 12.45Z" fill="none" stroke="#0000ff" stroke-width="1.0"/>
<path d="M423.61 16.61L428.21 16.61L425.91 12.61Z" fill="none" stroke="#0000ff" stroke-width="1.0"/>
<path d="M424.6 16.76L429.2 16.76L426.9 12.76Z" fill="none" stroke="#0000ff" stroke-width="1.0"/>
<path d="M425.59 16.92L430.19 16.92L427.89 12.92Z" fill="none" stroke="#0000ff" stroke-width="1.0"/>
<path d="M426.57 17.07L431.17 17.07L428.87 13.07Z" fill="none" stroke="#0000ff" stroke-width="1.0"/>
<path d="M427.56 17.23L432.16 17.23L429.86 13.23Z" fill="none" stroke="#0000ff" stroke-width="1.0"/>
<path d="M428.55 17.38L433.15 17.38L430.85 13.38Z" fill="none" stroke="#0000ff" stroke-width="1.0"/>
<path d="M429.54 17.53L434.14 17.53L431.84 13.53Z" fill="none" stroke="#0000ff" stroke-width="1.0"/>
<path d="M430.53 17.69L435.13 17.69L432.83 13.69Z" fill="none" stroke="#0000ff" stroke-width="1.0"/>
<path d="M431.51 17.84L436.11 17.84L433.81 13.84Z" fill="none" stroke="#0000ff" stroke-width="1.0"/>
<path d="M432.5 18L437.1 18L434.8 14Z" fill="none" stroke="#0000ff" stroke-width="1.0"/>
<path d="M433.49 18.15L438.09 18.15L435.79 14.15Z" fill="none" stroke="#0000ff" stroke-width="1.0"/>
<path d="M434.47 18.34L439.07 18.34L436.77 14.34Z" fill="none" stroke="#0000ff" stroke-width="1.0"/>
<path d="M435.45 18.55L440.05 18.55L437.75 14.55Z" fill="none" stroke="#0000ff" stroke-width="1.0"/>
<path d="M436.43 18.76L441.03 18.76L438.73 14.76Z" fill="none" stroke="#0000ff" stroke-width="1.0"/>
<path d="M437.4 18.97L442 18.97L439.7 14.97Z" fill="none" stroke="#0000ff" stroke-width="1.0"/>
<path d="M438.38 19.18L442.98 19.18L440.68 15.18Z" fill="none" stroke="#0000ff" stroke-width="1.0"/>
<path d="M439.36 19.39L443.96 19.39L441.66 15.39Z" fill="none" stroke="#0000ff" stroke-width="1.0"/>
<path d="M440.34 19.6L444.94 19.6L442.64 15.6Z" fill="none" stroke="#0000ff" stroke-width="1.0"/>
<path d="M441.32 19.81L445.92 19.81L443.62 15.81Z" fill="none" stroke="#0000ff" stroke-width="1.0"/>
<path d="M442.29 20.03L446.89 20.03L444.59 16.03Z" fill="none" stroke="#0000ff" stroke-width="1.0"/>
<path d="M443.24 20.35L447.84 20.35L445.54 16.35Z" fill="none" stroke="#0000ff" stroke-width="1.0"/>
<path d="M444.19 20.66L448.79 20.66L446.49 16.66Z" fill="none" stroke="#0000ff" stroke-width="1.0"/>
<path d="M445.14 20.98L449.74 20.98L447.44 16.98Z" fill="none" stroke="#0000ff" stroke-width="1.0"/>
<path d="M446.09 21.3L450.69 21.3L448.39 17.3Z" fill="none" stroke="#0000ff" stroke-width="1.0"/>
<path d="M447.03 21.61L451.63 21.61L449.33 17.61Z" fill="none" stroke="#0000ff" stroke-width="1.0"/>
<path d="M447.98 21.93L452.58 21.93L450.28 17.93Z" fill="none" stroke="#0000ff" stroke-width="1.0"/>
<path d="M448.93 22.24L453.53 22.24L451.23 18.24Z" fill="none" stroke="#0000ff" stroke-width="1.0"/>
<path d="M449.86 22.61L454.46 22.61L452.16 18.61Z" fill="none" stroke="#0000ff" stroke-width="1.0"/>
<path d="M450.77 23.04L455.37 23.04L453.07 19.04Z" fill="none" stroke="#0000ff" stroke-width="1.0"/>
<path d="M451.67 23.46L456.27 23.46L453.97 19.46Z" fill="none" stroke="#0000ff" stroke-width="1.0"/>
<path d="M452.58 23.88L457.18 23.88L454.88 19.88Z" fill="none" stroke="#0000ff" stroke-width="1.0"/>
<path d="M453.49 24.3L458.09 24.3L455.79 20.3Z" fill="none" stroke="#0000ff" stroke-width="1.0"/>
<path d="M454.32 24.84L458.92 24.84L456.62 20.84Z" fill="none" stroke="#0000ff" stroke-width="1.0"/>
<path d="M455.14 25.42L459.74 25.42L457.44 21.42Z" fill="none" stroke="#0000ff" stroke-width="1.0"/>
<path d="M455.96 25.99L460.56 25.99L458.26 21.99Z" fill="none" stroke="#0000ff" stroke-width="1.0"/>
<path d="M456.78 26.57L461.38 26.57L459.08 22.57Z" fill="none" stroke="#0000ff" stroke-width="1.0"/>
<path d="M457.57 27.18L462.17 27.18L459.87 23.18Z" fill="none" stroke="#0000ff" stroke-width="1.0"/>
<path d="M458.35 27.8L462.95 27.8L460.65 23.8Z" fill="none" stroke="#0000ff" stroke-width="1.0"/>
<path d="M459.13 28.43L463.73 28.43L461.43 24.43Z" fill="none" stroke="#0000ff" stroke-width="1.0"/>
<path d="M459.91 29.06L464.51 29.06L462.21 25.06Z" fill="none" stroke="#0000ff" stroke-width="1.0"/>
<path d="M460.69 29.68L465.29 29.68L462.99 25.68Z" fill="none" stroke="#0000ff" stroke-width="1.0"/>
<path d="M461.47 30.31L466.07 30.31L463.77 26.31Z" fill="none" stroke="#0000ff" stroke-width="1.0"/>
<path d="M462.19 30.99L466.79 30.99L464.49 26.99Z" fill="none" stroke="#0000ff" stroke-width="1.0"/>
<path d="M462.9 31.7L467.5 31.7L465.2 27.7Z" fill="none" stroke="#0000ff" stroke-width="1.0"/>
<path d="M463.61 32.41L468.21 32.41L465.91 28.41Z" fill="none" stroke="#0000ff" stroke-width="1.0"/>
<path d="M464.32 33.12L468.92 33.12L466.62 29.12Z" fill="none" stroke="#0000ff" stroke-width="1.0"/>
<path d="M465.02 33.82L469.62 33.82L467.32 29.82Z" fill="none" stroke="#0000ff" stroke-width="1.0"/>
<path d="M465.73 34.53L470.33 34.53L468.03 30.53Z" fill="none" stroke="#0000ff" stroke-width="1.0"/>
<path d="M466.44 35.24L471.04 35.24L468.74 31.24Z" fill="none" stroke="#0000ff" stroke-width="1.0"/>
<path d="M467.1 35.98L471.7 35.98L469.4 31.98Z" fill="none" stroke="#0000ff" stroke-width="1.0"/>
<path d="M467.74 36.75L472.34 36.75L470.04 32.75Z" fill="none" stroke="#0000ff" stroke-width="1.0"/>
<path d="M468.38 37.52L472.98 37.52L470.68 33.52Z" fill="none" stroke="#0000ff" stroke-width="1.0"/>
<path d="M469.02 38.29L473.62 38.29L471.32 34.29Z" fill="none" stroke="#0000ff" stroke-width="1.0"/>
<path d="M469.66 39.06L474.26 39.06L471.96 35.06Z" fill="none" stroke="#0000ff" stroke-width="1.0"/>
<path d="M470.3 39.82L474.9 39.82L472.6 35.82Z" fill="none" stroke="#0000ff" stroke-width="1.0"/>
<path d="M470.94 40.59L475.54 40.59L473.24 36.59Z" fill="none" stroke="#0000ff" stroke-width="1.0"/>
<path d="M471.58 41.36L476.18 41.36L473.88 37.36Z" fill="none" stroke="#0000ff" stroke-width="1.0"/>
<path d="M472.18 42.17L476.78 42.17L474.48 38.17Z" fill="none" stroke="#0000ff" stroke-width="1.0"/>
<path d="M472.76 42.98L477.36 42.98L475.06 38.98Z" fill="none" stroke="#0000ff" stroke-width="1.0"/>
<path d="M473.34 43.79L477.94 43.79L475.64 39.79Z" fill="none" stroke="#0000ff" stroke-width="1.0"/>
<path d="M473.92 44.61L478.52 44.61L476.22 40.61Z" fill="none" stroke="#0000ff" stroke-width="1.0"/>
<path d="M474.5 45.42L479.1 45.42L476.8 41.42Z" fill="none" stroke="#0000ff" stroke-width="1.0"/>
<path d="M475.08 46.23L479.68 46.23L477.38 42.23Z" fill="none" stroke="#0000ff" stroke-width="1.0"/>
<path d="M475.66 47.05L480.26 47.05L477.96 43.05Z" fill="none" stroke="#0000ff" stroke-width="1.0"/>
<path d="M476.24 47.86L480.84 47.86L478.54 43.86Z" fill="none" stroke="#0000ff" stroke-width="1.0"/>
<path d="M476.8 48.69L481.4 48.69L479.1 44.69Z" fill="none" stroke="#0000ff" stroke-width="1.0"/>
<path d="M477.24 49.59L481.84 49.59L479.54 45.59Z" fill="none" stroke="#0000ff" stroke-width="1.0"/>
<path d="M477.68 50.49L482.28 50.49L479.98 46.49Z" fill="none" stroke="#0000ff" stroke-width="1.0"/>
<path d="M478.13 51.38L482.73 51.38L480.43 47.38Z" fill="none" stroke="#0000ff" stroke-width="1.0"/>
<path d="M478.57 52.28L483.17 52.28L480.87 48.28Z" fill="none" stroke="#0000ff" stroke-width="1.0"/>
<path d="M479.02 53.17L483.62 53.17L481.32 49.17Z" fill="none" stroke="#0000ff" stroke-width="1.0"/>
<path d="M479.46 54.07L484.06 54.07L481.76 50.07Z" fill="none" stroke="#0000ff" stroke-width="1.0"/>
<path d="M479.9 54.97L484.5 54.97L482.2 50.97Z" fill="none" stroke="#0000ff" stroke-width="1.0"/>
<path d="M480.35 55.86L484.95 55.86L482.65 51.86Z" fill="none" stroke="#0000ff" stroke-width="1.0"/>
<path d="M480.79 56.76L485.39 56.76L483.09 52.76Z" fill="none" stroke="#0000ff" stroke-width="1.0"/>
<path d="M481.24 57.65L485.84 57.65L483.54 53.65Z" fill="none" stroke="#0000ff" stroke-width="1.0"/>
<path d="M481.68 58.55L486.28 58.55L483.98 54.55Z" fill="none" stroke="#0000ff" stroke-width="1.0"/>
<path d="M482.12 59.45L486.72 59.45L484.42 55.45Z" fill="none" stroke="#0000ff" stroke-width="1.0"/>
<path d="M482.51 60.37L487.11 60.37L484.81 56.37Z" fill="none" stroke="#0000ff" stroke-width="1.0"/>
<path d="M482.88 61.3L487.48 61.3L485.18 57.3Z" fill="none" stroke="#0000ff" stroke-width="1.0"/>
<path d="M483.26 62.22L487.86 62.22L485.56 58.22Z" fill="none" stroke="#0000ff" stroke-width="1.0"/>
<path d="M483.63 63.15L488.23 63.15L485.93 59.15Z" fill="none" stroke="#0000ff" stroke-width="1.0"/>
<path d="M484 64.08L488.6 64.08L486.3 60.08Z" fill="none" stroke="#0000ff" stroke-width="1.0"/>
<path d="M484.38 65.01L488.98 65.01L486.68 61.01Z" fill="none" stroke="#0000ff" stroke-width="1.0"/>
<path d="M484.75 65.93L489.35 65.93L487.05 61.93Z" fill="none" stroke="#0000ff" stroke-width="1.0"/>
<path d="M485.12 66.86L489.72 66.86L487.42 62.86Z" fill="none" stroke="#0000ff" stroke-width="1.0"/>
<path d="M485.5 67.79L490.1 67.79L487.8 63.79Z" fill="none" stroke="#0000ff" stroke-width="1.0"/>
<path d="M485.87 68.72L490.47 68.72L488.17 64.72Z" fill="none" stroke="#0000ff" stroke-width="1.0"/>
<path d="M486.25 69.64L490.85 69.64L488.55 65.64Z" fill="none" stroke="#0000ff" stroke-width="1.0"/>
<path d="M486.62 70.57L491.22 70.57L488.92 66.57Z" fill="none" stroke="#0000ff" stroke-width="1.0"/>
<path d="M486.99 71.5L491.59 71.5L489.29 67.5Z" fill="none" stroke="#0000ff" stroke-width="1.0"/>
<path d="M487.37 72.43L491.97 72.43L489.67 68.43Z" fill="none" stroke="#0000ff" stroke-width="1.0"/>
<path d="M487.74 73.35L492.34 73.35L490.04 69.35Z" fill="none" stroke="#0000ff" stroke-width="1.0"/>
<path d="M488.06 74.3L492.66 74.3L490.36 70.3Z" fill="none" stroke="#0000ff" stroke-width="1.0"/>
<path d="M488.27 75.27L492.87 75.27L490.57 71.27Z" fill="none" stroke="#0000ff" stroke-width="1.0"/>
<path d="M488.48 76.25L493.08 76.25L490.78 72.25Z" fill="none" stroke="#0000ff" stroke-width="1.0"/>
<path d="M488.69 77.23L493.29 77.23L490.99 73.23Z" fill="none" stroke="#0000ff" stroke-width="1.0"/>
<path d="M488.9 78.21L493.5 78.21L491.2 74.21Z" fill="none" stroke="#0000ff" stroke-width="1.0"/>
<path d="M489.11 79.19L493.71 79.19L491.41 75.19Z" fill="none" stroke="#0000ff" stroke-width="1.0"/>
<path d="M489.32 80.16L493.92 80.16L491.62 76.16Z" fill="none" stroke="#0000ff" stroke-width="1.0"/>
<path d="M489.52 81.14L494.12 81.14L491.82 77.14Z" fill="none" stroke="#0000ff" stroke-width="1.0"/>
<path d="M489.73 82.12L494.33 82.12L492.03 78.12Z" fill="none" stroke="#0000ff" stroke-width="1.0"/>
<path d="M489.94 83.1L494.54 83.1L492.24 79.1Z" fill="none" stroke="#0000ff" stroke-width="1.0"/>
<path d="M490.15 84.08L494.75 84.08L492.45 80.08Z" fill="none" stroke="#0000ff" stroke-width="1.0"/>
<path d="M490.36 85.05L494.96 85.05L492.66 81.05Z" fill="none" stroke="#0000ff" stroke-width="1.0"/>
<path d="M490.57 86.03L495.17 86.03L492.87 82.03Z" fill="none" stroke="#0000ff" stroke-width="1.0"/>
<path d="M490.78 87.01L495.38 87.01L493.08 83.01Z" fill="none" stroke="#0000ff" stroke-width="1.0"/>
<path d="M490.98 87.99L495.58 87.99L493.28 83.99Z" fill="none" stroke="#0000ff" stroke-width="1.0"/>
<path d="M491.19 88.97L495.79 88.97L493.49 84.97Z" fill="none" stroke="#0000ff" stroke-width="1.0"/>
<path d="M491.51 89.92L496.11 89.92L493.81 85.92Z" fill="none" stroke="#0000ff" stroke-width="1.0"/>
<path d="M491.82 90.86L496.42 90.86L494.12 86.86Z" fill="none" stroke="#0000ff" stroke-width="1.0"/>
<path d="M492.38 92.54L496.98 92.54L494.68 88.54Z" fill="none" stroke="#0000ff" stroke-width="1.0"/>
<path d="M492.67 93.42L497.27 93.42L494.97 89.42Z" fill="none" stroke="#0000ff" stroke-width="1.0"/>
<path d="M492.97 94.32L497.57 94.32L495.27 90.32Z" fill="none" stroke="#0000ff" stroke-width="1.0"/>
<path d="M493.28 95.24L497.88 95.24L495.58 91.24Z" fill="none" stroke="#0000ff" stroke-width="1.0"/>
<path d="M493.6 96.19L498.2 96.19L495.9 92.19Z" fill="none" stroke="#0000ff" stroke-width="1.0"/>
<path d="M493.92 97.17L498.52 97.17L496.22 93.17Z" fill="none" stroke="#0000ff" stroke-width="1.0"/>
<path d="M494.26 98.17L498.86 98.17L496.56 94.17Z" fill="none" stroke="#0000ff" stroke-width="1.0"/>
<path d="M494.6 99.21L499.2 99.21L496.9 95.21Z" fill="none" stroke="#0000ff" stroke-width="1.0"/>
<path d="M494.96 100.27L499.56 100.27L497.26 96.27Z" fill="none" stroke="#0000ff" stroke-width="1.0"/>
<path d="M495.32 101.37L499.92 101.37L497.62 97.37Z" fill="none" stroke="#0000ff" stroke-width="1.0"/>
<path d="M495.7 102.51L500.3 102.51L498 98.51Z" fill="none" stroke="#0000ff" stroke-width="1.0"/>
<path d="M496.09 103.68L500.69 103.68L498.39 99.68Z" fill="none" stroke="#0000ff" stroke-width="1.0"/>
<path d="M496.49 104.9L501.09 104.9L498.79 100.9Z" fill="none" stroke="#0000ff" stroke-width="1.0"/>
<path d="M496.89 106.16L501.49 106.16L499.19 102.16Z" fill="none" stroke="#0000ff" stroke-width="1.0"/>
<path d="M497.31 107.46L501.91 107.46L499.61 103.46Z" fill="none" stroke="#0000ff" stroke-width="1.0"/>
<path d="M497.74 108.82L502.34 108.82L500.04 104.82Z" fill="none" stroke="#0000ff" stroke-width="1.0"/>
<path d="M498.2 110.24L502.8 110.24L500.5 106.24Z" fill="none" stroke="#0000ff" stroke-width="1.0"/>
<path d="M498.67 111.71L503.27 111.71L500.97 107.71Z" fill="none" stroke="#0000ff" stroke-width="1.0"/>
<path d="M499.16 113.25L503.76 113.25L501.46 109.25Z" fill="none" stroke="#0000ff" stroke-width="1.0"/>
<path d="M499.68 114.86L504.28 114.86L501.98 110.86Z" fill="none" stroke="#0000ff" stroke-width="1.0"/>
<path d="M500.22 116.55L504.82 116.55L502.52 112.55Z" fill="none" stroke="#0000ff" stroke-width="1.0"/>
<path d="M500.79 118.33L505.39 118.33L503.09 114.33Z" fill="none" stroke="#0000ff" stroke-width="1.0"/>
<path d="M501.13 120.2L505.73 120.2L503.43 116.2Z" fill="none" stroke="#0000ff" stroke-width="1.0"/>
<path d="M501.34 122.18L505.94 122.18L503.64 118.18Z" fill="none" stroke="#0000ff" stroke-width="1.0"/>
<path d="M501.56 124.28L506.16 124.28L503.86 120.28Z" fill="none" stroke="#0000ff" stroke-width="1.0"/>
<path d="M501.8 126.52L506.4 126.52L504.1 122.52Z" fill="none" stroke="#0000ff" stroke-width="1.0"/>
<path d="M502.06 128.91L506.66 128.91L504.36 124.91Z" fill="none" stroke="#0000ff" stroke-width="1.0"/>
<path d="M502.33 131.47L506.93 131.47L504.63 127.47Z" fill="none" stroke="#0000ff" stroke-width="1.0"/>
<path d="M502.65 134.24L507.25 134.24L504.95 130.24Z" fill="none" stroke="#0000ff" stroke-width="1.0"/>
<path d="M503.28 137.26L507.88 137.26L505.58 133.26Z" fill="none" stroke="#0000ff" stroke-width="1.0"/>
<path d="M503.98 140.56L508.58 140.56L506.28 136.56Z" fill="none" stroke="#0000ff" stroke-width="1.0"/>
<path d="M504.74 144.21L509.34 144.21L507.04 140.21Z" fill="none" stroke="#0000ff" stroke-width="1.0"/>
<path d="M505.46 148.29L510.06 148.29L507.76 144.29Z" fill="none" stroke="#0000ff" stroke-width="1.0"/>
<path d="M507.4 152.91L512 152.91L509.7 148.91Z" fill="none" stroke="#0000ff" stroke-width="1.0"/>
<path d="M508.79 158.25L513.39 158.25L511.09 154.25Z" fill="none" stroke="#0000ff" stroke-width="1.0"/>
<path d="M508.8 164.57L513.4 164.57L511.1 160.57Z" fill="none" stroke="#0000ff" stroke-width="1.0"/>
<path d="M509.1 172.29L513.7 172.29L511.4 168.29Z" fill="none" stroke="#0000ff" stroke-width="1.0"/>
<path d="M510.41 182.26L515.01 182.26L512.71 178.26Z" fill="none" stroke="#0000ff" stroke-width="1.0"/>
<path d="M513.68 196.3L518.28 196.3L515.98 192.3Z" fill="none" stroke="#0000ff" stroke-width="1.0"/>
<path d="M515.6 220.31L520.2 220.31L517.9 216.31Z" fill="none" stroke="#0000ff" stroke-width="1.0"/>
</g>
<text x="324" y="17.35" text-anchor="end"><tspan class="tk">10</tspan><tspan class="sp" dx="1.7" dy="-6.1">0</tspan></text>
<text x="324" y="97.8" text-anchor="end"><tspan class="tk">10</tspan><tspan class="sp" dx="1.7" dy="-6.1">-1</tspan></text>
<text x="324" y="177.85" text-anchor="end"><tspan class="tk">10</tspan><tspan class="sp" dx="1.7" dy="-6.1">-2</tspan></text>
<text x="354.94" y="240.7" text-anchor="middle"><tspan class="tk">10</tspan><tspan class="sp" dx="1.0" dy="-6.1">-5</tspan></text>
<text x="484.62" y="240.7" text-anchor="middle"><tspan class="tk">10</tspan><tspan class="sp" dx="1.0" dy="-6.1">0</tspan></text>
<text class="lb" x="433.55" y="259.0" text-anchor="middle">Second Order Weighted Outdegree</text>
<text class="lb" style="font-size:14.45px" transform="translate(291.9 114.52) rotate(-90)" text-anchor="middle">Empirical CCDF</text>
<rect x="444.5" y="22.95" width="84.1" height="34.25" fill="#fff" stroke="#262626" stroke-width="0.9"/>
<rect x="469.5" y="30.8" width="3.4" height="3.4" fill="none" stroke="#e040c0" stroke-width="0.8"/>
<path d="M468.7 49.5L473.3 49.5L471 45.5Z" fill="none" stroke="#2a2ad0" stroke-width="0.85"/>
<text class="lg" x="497" y="37.2">2007</text>
<text class="lg" x="497" y="53.5">2012</text>
</g>
</svg>
</body>
</html>
